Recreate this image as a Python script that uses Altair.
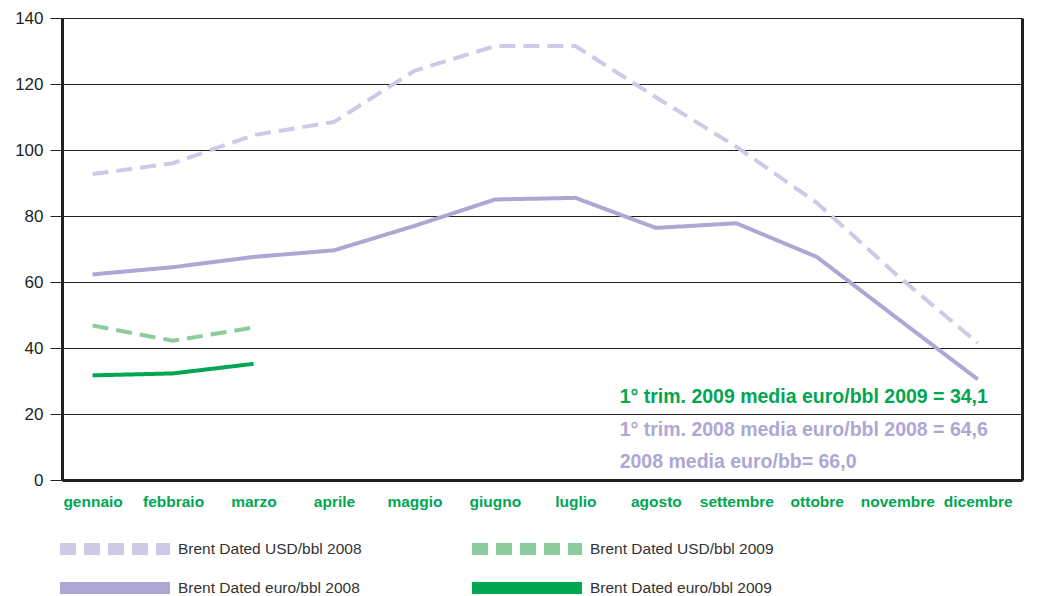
import altair as alt
import pandas as pd

# Monthly Brent Dated prices
months = ["gennaio", "febbraio", "marzo", "aprile", "maggio", "giugno",
          "luglio", "agosto", "settembre", "ottobre", "novembre", "dicembre"]
usd_2008 = [92.7, 96.0, 104.5, 108.5, 124.0, 131.5, 131.5, 116.0, 101.0, 84.0, 62.0, 41.5]
eur_2008 = [62.3, 64.5, 67.6, 69.6, 77.0, 85.0, 85.5, 76.4, 77.8, 67.6, 49.0, 30.5]
usd_2009 = [46.8, 42.2, 46.2]
eur_2009 = [31.7, 32.3, 35.2]

# Legend fills column by column: 2008 series on the left, 2009 on the right
series = ["Brent Dated USD/bbl 2008", "Brent Dated euro/bbl 2008",
          "Brent Dated USD/bbl 2009", "Brent Dated euro/bbl 2009"]
series_values = [usd_2008, eur_2008, usd_2009, eur_2009]
series_colors = ["#cdc9e6", "#aea7d4", "#8ccc9c", "#00a651"]
series_dashes = [[16, 8], [1, 0], [16, 8], [1, 0]]

# Average price notes
notes = ["1° trim. 2009 media euro/bbl 2009 = 34,1",
         "1° trim. 2008 media euro/bbl 2008 = 64,6",
         "2008 media euro/bb= 66,0"]
note_values = [25.2, 15.2, 5.5]
note_colors = ["#00a651", "#aea7d4", "#aea7d4"]
note_month = 6.55

rows = []
for name, vals in zip(series, series_values):
    for i, v in enumerate(vals):
        rows.append({"serie": name, "m": i, "v": v})
df = pd.DataFrame(rows)

notes_df = pd.DataFrame({"testo": notes, "v": note_values, "colore": note_colors,
                         "m": [note_month] * len(notes)})

ink = "#231f20"
xscale = alt.Scale(domain=[-0.38, 11.55], nice=False, zero=False)
yscale = alt.Scale(domain=[0, 140], nice=False)

xaxis = alt.Axis(values=list(range(12)), labelExpr=f"{months}[datum.value]",
                 title=None, grid=False, ticks=False, domainColor=ink, domainWidth=3,
                 labelColor="#00a651", labelFont="Liberation Sans Narrow, Arial Narrow, Liberation Sans, sans-serif",
                 labelFontWeight="bold", labelFontSize=15.5, labelPadding=14)
yaxis = alt.Axis(values=list(range(0, 141, 20)), title=None, grid=True,
                 gridColor=ink, gridWidth=1, gridOpacity=1,
                 tickSize=12, tickColor=ink, tickWidth=1,
                 domainColor=ink, domainWidth=3,
                 labelFont="Liberation Sans", labelFontSize=17, labelColor=ink,
                 labelPadding=7)

# Wide swatch: a short symbol whose path reaches past its nominal size
legend = alt.Legend(title=None, orient="none", legendX=41, legendY=519,
                    columns=2, columnPadding=85, rowPadding=-9,
                    symbolType="M-9.17,0H9.17", symbolSize=144, symbolStrokeWidth=12,
                    labelOffset=51, labelFont="Liberation Sans", labelFontSize=15.5,
                    labelColor="#333333", labelLimit=400)

lines = alt.Chart(df).mark_line(strokeWidth=4, strokeCap="butt").encode(
    x=alt.X("m:Q", scale=xscale, axis=xaxis),
    y=alt.Y("v:Q", scale=yscale, axis=yaxis),
    color=alt.Color("serie:N", scale=alt.Scale(domain=series, range=series_colors), legend=legend),
    strokeDash=alt.StrokeDash("serie:N", scale=alt.Scale(domain=series, range=series_dashes),
                              legend=legend),
)

# Right-hand frame line
frame = alt.Chart(df).mark_line(opacity=0).encode(
    x=alt.X("m:Q", scale=xscale, axis=xaxis),
    y=alt.Y("v:Q", scale=yscale,
            axis=alt.Axis(orient="right", labels=False, ticks=False, grid=False,
                          domainColor=ink, domainWidth=3, title=None)),
    detail="serie:N",
)

texts = alt.Chart(notes_df).mark_text(
    align="left", baseline="middle", fontWeight="bold", fontSize=19.5,
    font="Liberation Sans",
).encode(
    x=alt.X("m:Q", scale=xscale, axis=xaxis),
    y=alt.Y("v:Q", scale=yscale, axis=None),
    text="testo:N",
    color=alt.Color("colore:N", scale=None),
)

chart = alt.layer(lines, frame, texts).resolve_axis(y="independent").properties(
    width=960, height=462,
    autosize=alt.AutoSizeParams(type="none"),
    padding={"left": 62, "top": 18, "right": 16, "bottom": 116},
).configure_view(stroke=None)

chart.save("out.html", embed_options={"renderer": "svg", "actions": False})
